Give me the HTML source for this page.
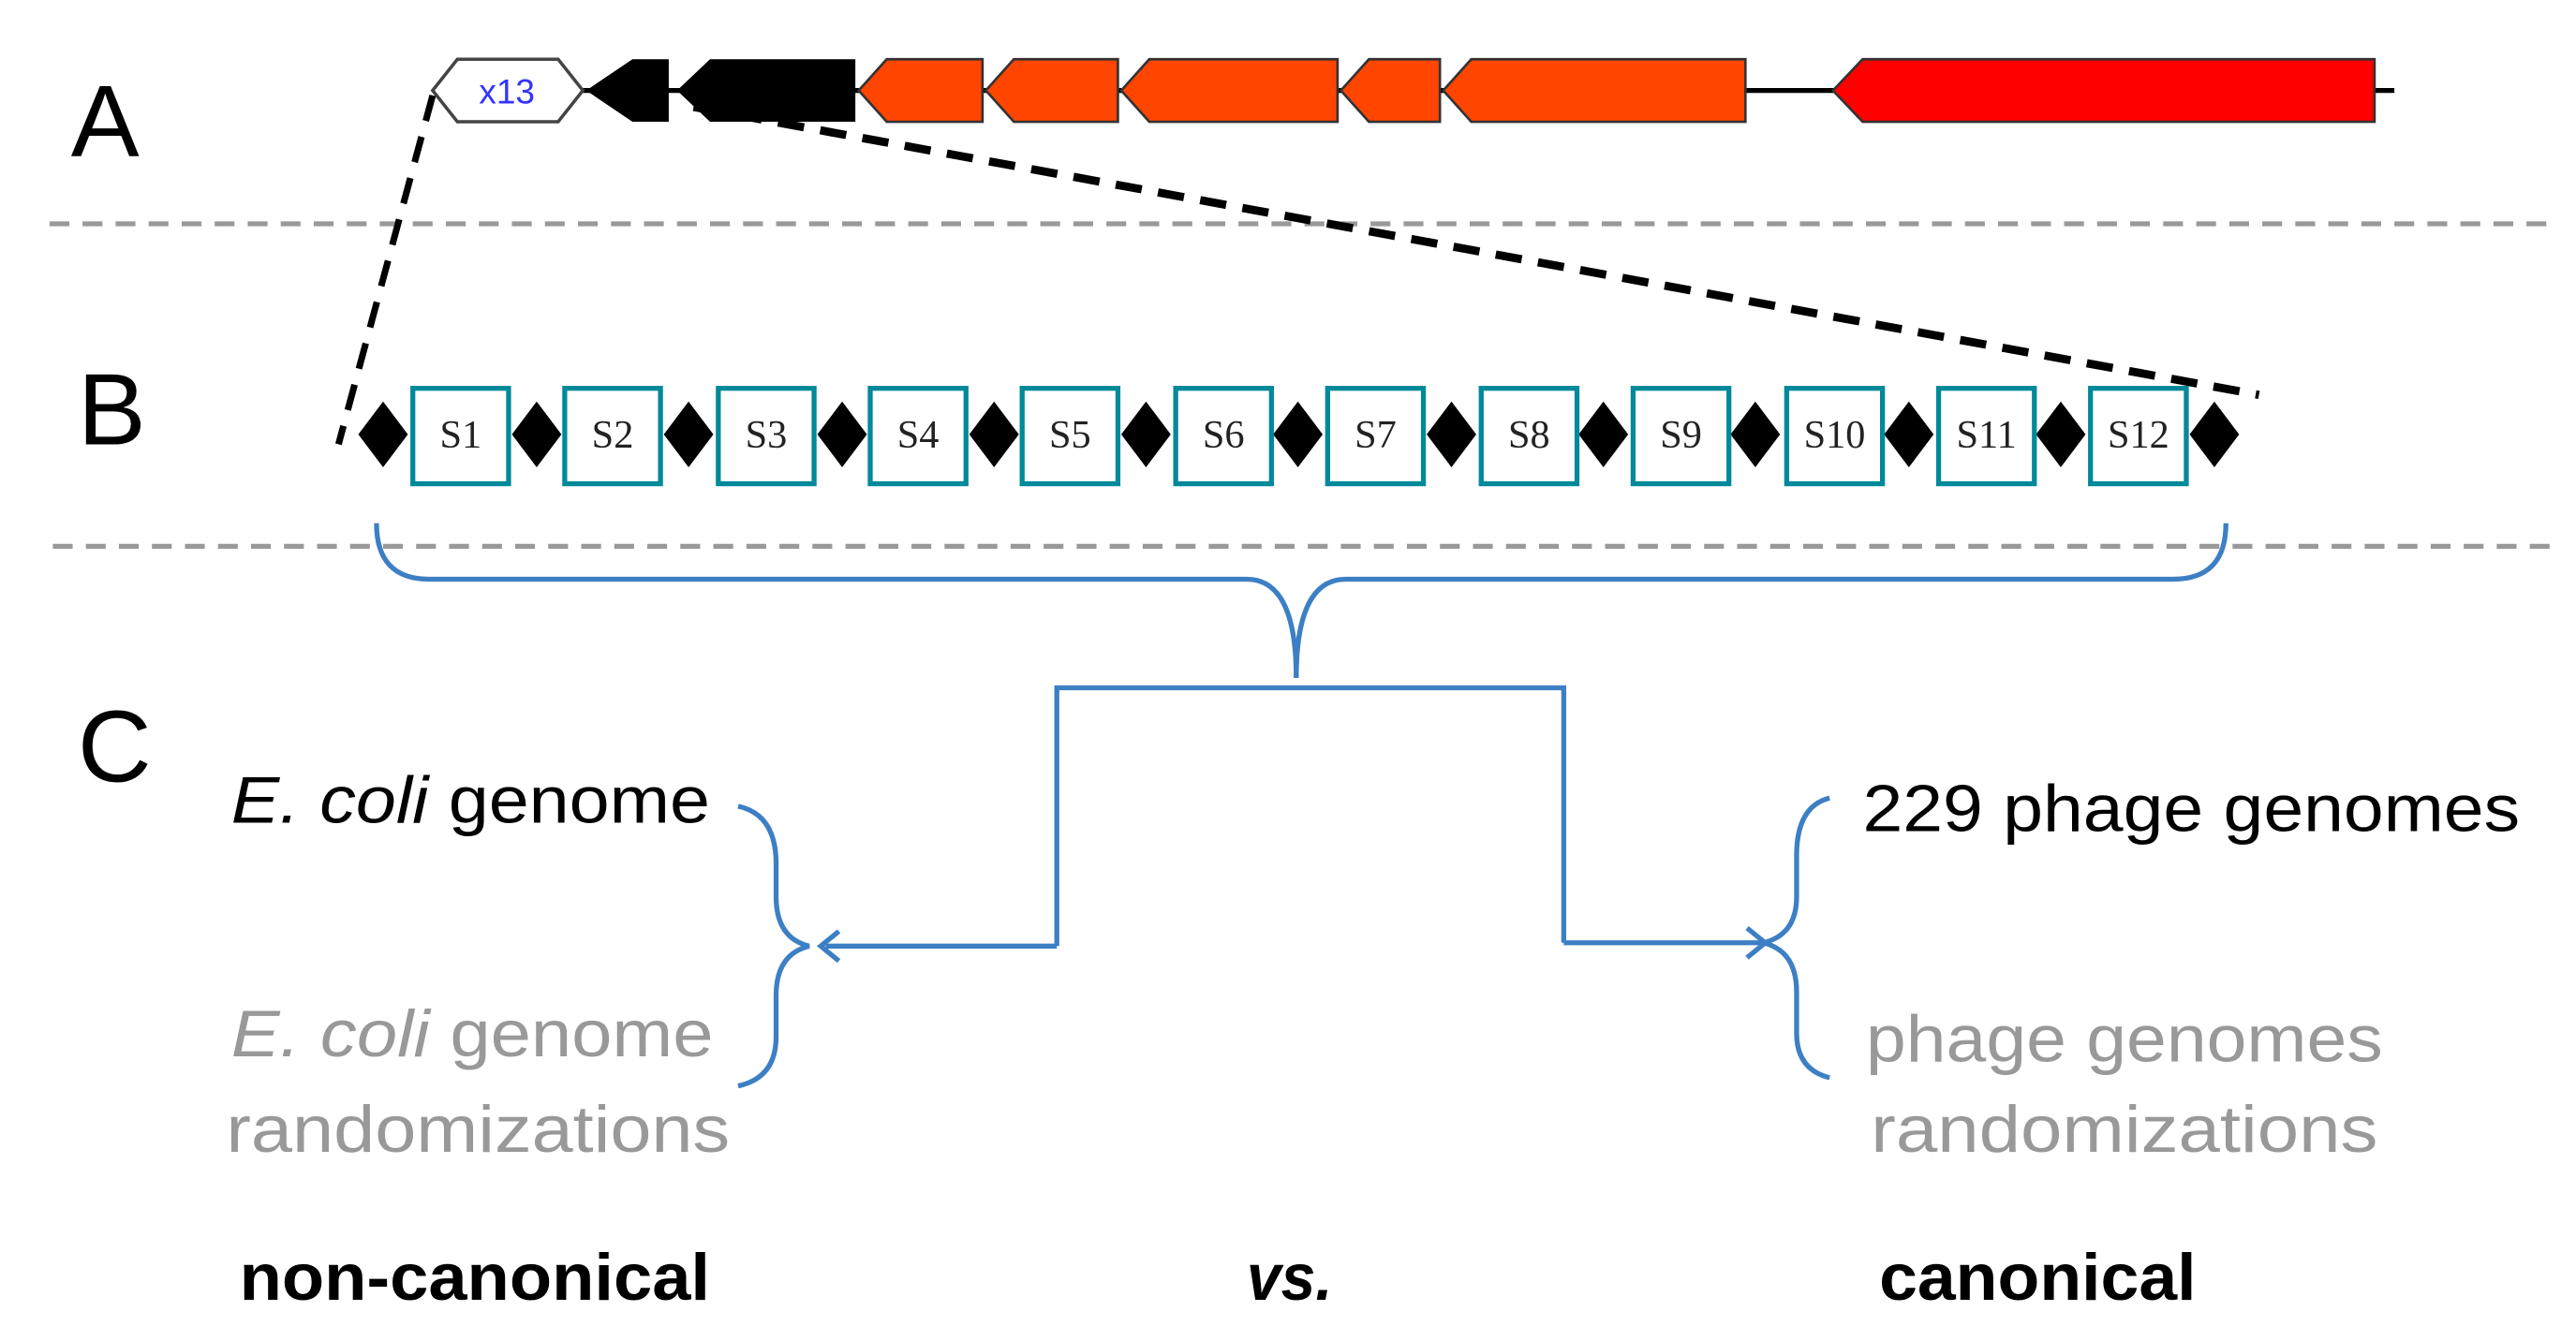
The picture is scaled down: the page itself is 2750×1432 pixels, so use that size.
<!DOCTYPE html>
<html><head><meta charset="utf-8"><style>html,body{margin:0;padding:0;background:#fff}svg{display:block}</style></head>
<body>
<svg width="2750" height="1432" viewBox="0 0 1560 815" preserveAspectRatio="none" xmlns="http://www.w3.org/2000/svg">
<g font-family="'Liberation Sans', sans-serif" fill="#000">
<text x="43" y="95" font-size="62">A</text>
<text x="47" y="270" font-size="62">B</text>
<text x="47" y="475" font-size="62">C</text>
</g>
<line x1="30" y1="136" x2="1550" y2="136" stroke="#999" stroke-width="3" stroke-dasharray="12,8"/>
<line x1="32" y1="332" x2="1550" y2="332" stroke="#999" stroke-width="3" stroke-dasharray="12,8"/>
<!-- gene track -->
<line x1="350" y1="55" x2="1450" y2="55" stroke="#000" stroke-width="3"/>
<polygon points="262,55 277,36 338,36 353,55 338,74 277,74" fill="#fff" stroke="#444" stroke-width="2"/>
<text x="307" y="63" font-family="'Liberation Sans', sans-serif" font-size="21" fill="#3333ff" text-anchor="middle">x13</text>
<polygon points="355,55 383,36 405,36 405,74 383,74" fill="#000"/>
<polygon points="410,55 430,36 518,36 518,74 430,74" fill="#000"/>
<g fill="#FF4500" stroke="#333" stroke-width="1.5">
<polygon points="520,55 537,36 595,36 595,74 537,74"/>
<polygon points="597,55 614,36 677,36 677,74 614,74"/>
<polygon points="679,55 696,36 810,36 810,74 696,74"/>
<polygon points="812,55 829,36 872,36 872,74 829,74"/>
<polygon points="874,55 891,36 1057,36 1057,74 891,74"/>
</g>
<polygon points="1110,55 1128,36 1438,36 1438,74 1128,74" fill="#FF0000" stroke="#333" stroke-width="1.5"/>
<!-- zoom dashes -->
<line x1="262" y1="58" x2="205" y2="270" stroke="#000" stroke-width="4" stroke-dasharray="16,10"/>
<line x1="420" y1="65" x2="1368" y2="240" stroke="#000" stroke-width="5" stroke-dasharray="16,10"/>
<!-- B row -->
<g fill="#000">
<polygon points="217,264 232,244 247,264 232,284"/>
<polygon points="310,264 325,244 340,264 325,284"/>
<polygon points="402,264 417,244 432,264 417,284"/>
<polygon points="495,264 510,244 525,264 510,284"/>
<polygon points="587,264 602,244 617,264 602,284"/>
<polygon points="679,264 694,244 709,264 694,284"/>
<polygon points="771,264 786,244 801,264 786,284"/>
<polygon points="864,264 879,244 894,264 879,284"/>
<polygon points="956,264 971,244 986,264 971,284"/>
<polygon points="1048,264 1063,244 1078,264 1063,284"/>
<polygon points="1141,264 1156,244 1171,264 1156,284"/>
<polygon points="1233,264 1248,244 1263,264 1248,284"/>
<polygon points="1326,264 1341,244 1356,264 1341,284"/>
</g>
<g fill="#fff" stroke="#00899A" stroke-width="3">
<rect x="250" y="236" width="58" height="58"/>
<rect x="342" y="236" width="58" height="58"/>
<rect x="435" y="236" width="58" height="58"/>
<rect x="527" y="236" width="58" height="58"/>
<rect x="619" y="236" width="58" height="58"/>
<rect x="712" y="236" width="58" height="58"/>
<rect x="804" y="236" width="58" height="58"/>
<rect x="897" y="236" width="58" height="58"/>
<rect x="989" y="236" width="58" height="58"/>
<rect x="1082" y="236" width="58" height="58"/>
<rect x="1174" y="236" width="58" height="58"/>
<rect x="1266" y="236" width="58" height="58"/>
</g>
<g font-family="'Liberation Serif', serif" font-size="24" fill="#222" text-anchor="middle">
<text x="279" y="272">S1</text><text x="371" y="272">S2</text><text x="464" y="272">S3</text>
<text x="556" y="272">S4</text><text x="648" y="272">S5</text><text x="741" y="272">S6</text>
<text x="833" y="272">S7</text><text x="926" y="272">S8</text><text x="1018" y="272">S9</text>
<text x="1111" y="272">S10</text><text x="1203" y="272">S11</text><text x="1295" y="272">S12</text>
</g>
<!-- blue connectors -->
<g fill="none" stroke="#3D7FC4" stroke-width="3">
<path d="M228,318 Q228,352 260,352 L755,352 Q785,352 785,412"/>
<path d="M1348,318 Q1348,352 1316,352 L815,352 Q785,352 785,412"/>
<path d="M640,575 L640,418 L947,418 L947,573"/>
<path d="M640,575 L500,575"/>
<path d="M947,573 L1068,573"/>
<path d="M447,490 Q470,495 470,525 L470,545 Q470,570 490,575 Q470,580 470,605 L470,630 Q470,655 447,660"/>
<path d="M1108,485 Q1088,490 1088,520 L1088,545 Q1088,568 1068,573 Q1088,578 1088,603 L1088,628 Q1088,650 1108,655"/>
<path d="M508,566 L497,575 L508,584"/>
<path d="M1058,564 L1069,573 L1058,582"/>
</g>
<!-- texts -->
<g font-family="'Liberation Sans', sans-serif" font-size="40">
<text x="140" y="500" fill="#000" textLength="290" lengthAdjust="spacingAndGlyphs"><tspan font-style="italic">E. coli</tspan> genome</text>
<text x="140" y="642" fill="#999" textLength="292" lengthAdjust="spacingAndGlyphs"><tspan font-style="italic">E. coli</tspan> genome</text>
<text x="137" y="700" fill="#999" textLength="305" lengthAdjust="spacingAndGlyphs">randomizations</text>
<text x="1128" y="505" fill="#000" textLength="398" lengthAdjust="spacingAndGlyphs">229 phage genomes</text>
<text x="1130" y="645" fill="#999" textLength="313" lengthAdjust="spacingAndGlyphs">phage genomes</text>
<text x="1133" y="700" fill="#999" textLength="307" lengthAdjust="spacingAndGlyphs">randomizations</text>
<text x="145" y="790" font-weight="bold" textLength="285" lengthAdjust="spacingAndGlyphs">non-canonical</text>
<text x="755" y="790" font-weight="bold" font-style="italic" textLength="52" lengthAdjust="spacingAndGlyphs">vs.</text>
<text x="1138" y="790" font-weight="bold" textLength="192" lengthAdjust="spacingAndGlyphs">canonical</text>
</g>
</svg>
</body></html>
